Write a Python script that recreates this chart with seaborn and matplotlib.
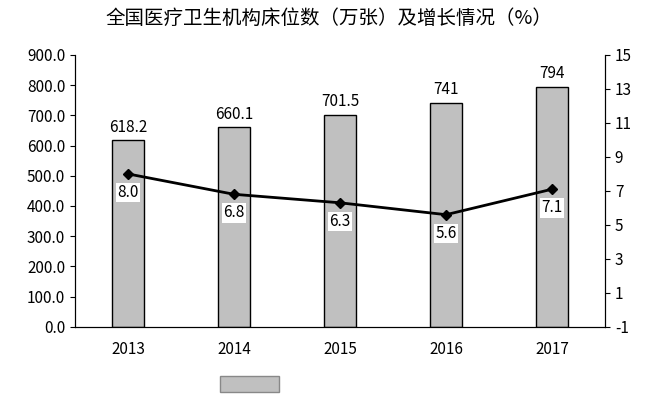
import matplotlib
matplotlib.use('Agg')
import matplotlib.pyplot as plt
import matplotlib.patches as mpatches
import seaborn as sns
import pandas as pd

years = ['2013', '2014', '2015', '2016', '2017']
beds = [618.2, 660.1, 701.5, 741, 794]
bed_labels = ['618.2', '660.1', '701.5', '741', '794']
growth = [8.0, 6.8, 6.3, 5.6, 7.1]

plt.rcParams['font.family'] = ['Noto Sans CJK SC', 'DejaVu Sans']
plt.rcParams['axes.unicode_minus'] = False
df = pd.DataFrame({'year': years, 'beds': beds, 'growth': growth})

fig = plt.figure(figsize=(6.57, 4.04), dpi=100)
ax = fig.add_axes([0.114, 0.191, 0.807, 0.673])
sns.barplot(data=df, x='year', y='beds', color='#c0c0c0', edgecolor='black',
            linewidth=1, width=0.3, saturation=1, ax=ax)
ax.set_ylim(0, 900)
ax.set_yticks(range(0, 901, 100))
ax.set_yticklabels([f'{v:.1f}' for v in range(0, 901, 100)], fontsize=11)
ax.set_xlabel('')
ax.set_ylabel('')
ax.tick_params(axis='x', labelsize=11, length=0, pad=10)
ax.spines['top'].set_visible(False)
for i, (v, t) in enumerate(zip(beds, bed_labels)):
    ax.text(i, v + 15, t, ha='center', va='bottom', fontsize=11)

ax2 = ax.twinx()
ax2.plot(range(len(years)), growth, color='black', lw=2, marker='D', ms=5)
ax2.set_ylim(-1, 15)
ax2.set_yticks(range(-1, 16, 2))
ax2.tick_params(axis='y', labelsize=11)
ax2.spines['top'].set_visible(False)
for i, g in enumerate(growth):
    ax2.text(i, g - 0.6, f'{g:.1f}', ha='center', va='top', fontsize=11,
             bbox=dict(facecolor='white', edgecolor='none', pad=1))
ax.set_xlim(-0.5, 4.5)

fig.text(0.5, 0.955, '全国医疗卫生机构床位数（万张）及增长情况（%）', ha='center',
         va='center', fontsize=14)
fig.patches.append(mpatches.Rectangle((0.335, 0.03), 0.09, 0.04,
                   transform=fig.transFigure, facecolor='#c0c0c0', edgecolor='#888888'))

fig.savefig('out.png', dpi=100)
